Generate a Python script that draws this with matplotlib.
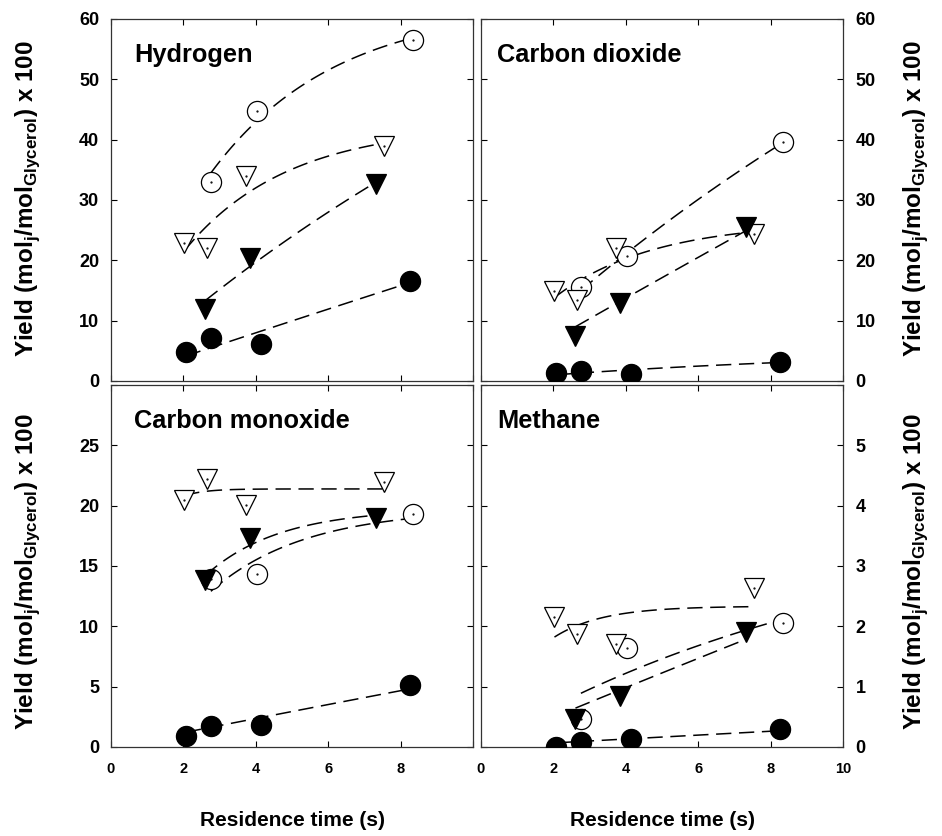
import numpy as np
import matplotlib
matplotlib.use("Agg")
import matplotlib.pyplot as plt

plt.rcParams['font.family'] = ['Liberation Sans', 'DejaVu Sans']
plt.rcParams['font.weight'] = 'bold'
plt.rcParams['mathtext.fontset'] = 'custom'
plt.rcParams['mathtext.rm'] = 'Liberation Sans:bold'
plt.rcParams['mathtext.bf'] = 'Liberation Sans:bold'

# residence times (s) for the four series
t_fc = [2.07, 2.76, 4.15, 8.25]   # filled circles
t_ft = [2.61, 3.84, 7.31]         # filled triangles
t_ot = [2.03, 2.66, 3.74, 7.55]   # open triangles
t_oc = [2.76, 4.03, 8.35]         # open circles

h2_fc = [4.8, 7.2, 6.2, 16.6]
h2_ft = [12.0, 20.3, 32.7]
h2_ot = [22.9, 22.0, 33.9, 38.9]
h2_oc = [33.0, 44.8, 56.5]

co2_fc = [1.4, 1.7, 1.15, 3.2]
co2_ft = [7.4, 12.9, 25.6]
co2_ot = [14.9, 13.4, 22.0, 24.3]
co2_oc = [15.6, 20.7, 39.6]

co_fc = [0.94, 1.74, 1.82, 5.16]
co_ft = [13.8, 17.3, 19.0]
co_ot = [20.5, 22.2, 20.05, 22.0]
co_oc = [13.9, 14.3, 19.3]

ch4_fc = [0.0, 0.09, 0.13, 0.29]
ch4_ft = [0.46, 0.85, 1.9]
ch4_ot = [2.16, 1.88, 1.71, 2.63]
ch4_oc = [0.46, 1.64, 2.06]

titles = ["Hydrogen", "Carbon dioxide", "Carbon monoxide", "Methane"]


def rise_fit(x, y):
    # y = a (1 - exp(-b x)), grid over b, least squares for a
    x = np.asarray(x, float)
    y = np.asarray(y, float)
    best = None
    for b in np.linspace(0.005, 3.0, 3000):
        f = 1 - np.exp(-b * x)
        a = f @ y / (f @ f)
        sse = np.sum((a * f - y) ** 2)
        if best is None or sse < best[0]:
            best = (sse, a, b)
    xs = np.linspace(x.min(), x.max(), 100)
    return xs, best[1] * (1 - np.exp(-best[2] * xs))


def draw(ax, oc, ot, ft, fc):
    series = [
        (t_oc, oc, 'o', 'white', 14.5),
        (t_ot, ot, 'v', 'white', 15),
        (t_ft, ft, 'v', 'black', 15),
        (t_fc, fc, 'o', 'black', 14.5),
    ]
    for t, y, m, fcol, ms in series:
        xs, ys = rise_fit(t, y)
        ax.plot(xs, ys, color='black', lw=1.1, dashes=(10, 5), zorder=2)
    for t, y, m, fcol, ms in series:
        ax.plot(t, y, ls='none', marker=m, ms=ms, mfc=fcol, mec='black',
                mew=0.9, zorder=3)
        if fcol == 'white':
            ax.plot(t, y, ls='none', marker='.', ms=1.2, color='black', zorder=4)


fig = plt.figure(figsize=(9.42, 8.36), dpi=100)
w, h = 0.3843, 0.433
ax_h2 = fig.add_axes([0.1178, 0.5443, w, h])
ax_co2 = fig.add_axes([0.5106, 0.5443, w, h])
ax_co = fig.add_axes([0.1178, 0.1065, w, h])
ax_ch4 = fig.add_axes([0.5106, 0.1065, w, h])

draw(ax_h2, h2_oc, h2_ot, h2_ft, h2_fc)
draw(ax_co2, co2_oc, co2_ot, co2_ft, co2_fc)
draw(ax_co, co_oc, co_ot, co_ft, co_fc)
draw(ax_ch4, ch4_oc, ch4_ot, ch4_ft, ch4_fc)

axes = [ax_h2, ax_co2, ax_co, ax_ch4]
ylims = [60, 60, 30, 6]
ysteps = [10, 10, 5, 1]
for i, ax in enumerate(axes):
    ax.set_xlim(0, 10)
    ax.set_ylim(0, ylims[i])
    ax.set_xticks(np.arange(0, 11, 2))
    ax.set_yticks(np.arange(0, ylims[i] + 0.001, ysteps[i]))
    right = i in (1, 3)
    bottom = i in (2, 3)
    ax.tick_params(direction='in', top=True, right=True, length=4, width=0.8)
    ax.tick_params(axis='y', labelsize=13, labelleft=not right,
                   labelright=right, pad=9 if right else 8.5)
    ax.tick_params(axis='x', labelsize=10.5, labelbottom=bottom, pad=10.5)
    for s in ax.spines.values():
        s.set_linewidth(0.9)
        s.set_color('#333333')
    tl = ax.get_yticklabels()
    if i >= 2:
        tl[-1].set_visible(False)
    if i == 2:
        ax.get_xticklabels()[-1].set_visible(False)
    tx = 0.064 if not right else 0.044
    ax.text(tx, 0.9, titles[i], transform=ax.transAxes, fontsize=18.3,
            fontweight='bold', va='center', ha='left')

ylab = r"Yield (mol$_\mathrm{j}$/mol$_\mathrm{Glycerol}$) x 100"
for yc in (0.763, 0.316):
    fig.text(0.029, yc, ylab, rotation=90, ha='center', va='center', fontsize=17.5)
    fig.text(0.972, yc, ylab, rotation=90, ha='center', va='center', fontsize=17.5)
for xc in (0.311, 0.703):
    fig.text(xc, 0.019, "Residence time (s)", ha='center', va='center', fontsize=15)

fig.savefig("out.png", dpi=100)
